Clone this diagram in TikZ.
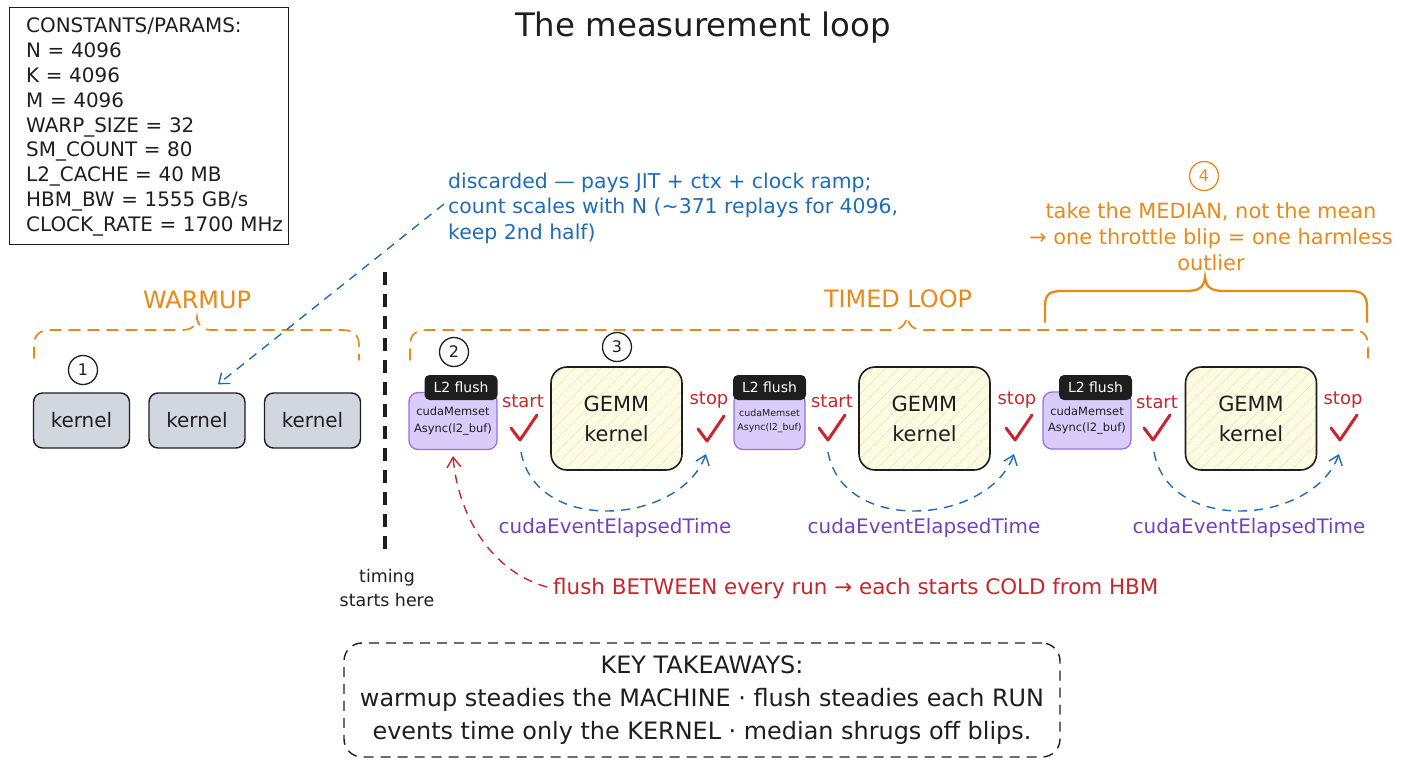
\documentclass[tikz,border=0pt]{standalone}
\usepackage{fontspec}
\setmainfont{DejaVu Sans}
\usetikzlibrary{arrows.meta,patterns.meta,calc}
\definecolor{cOrange}{RGB}{232,137,24}
\definecolor{cBlue}{RGB}{30,108,184}
\definecolor{cPurple}{RGB}{112,66,190}
\definecolor{cRed}{RGB}{200,38,44}
\definecolor{cLav}{RGB}{218,204,250}
\definecolor{cLavB}{RGB}{150,112,228}
\definecolor{cGray}{RGB}{210,215,223}
\definecolor{cInk}{RGB}{30,30,30}
\definecolor{cCream}{RGB}{253,251,228}
\definecolor{cHatch}{RGB}{236,230,170}
\newcommand{\fsz}[2]{\fontsize{#1}{#2}\selectfont}
\begin{document}
\begin{tikzpicture}[x=1bp,y=-1bp,
  every node/.style={inner sep=0pt, text=cInk},
  numcirc/.style={circle,draw=cInk,line width=1.3bp,minimum size=29bp,font=\fsz{16}{20}},
  kbox/.style={draw=cInk,fill=cGray,line width=1.4bp,rounded corners=9bp,minimum width=96bp,minimum height=55bp,font=\fsz{20}{23}},
  gemm/.style={draw=cInk,line width=1.6bp,rounded corners=16bp,minimum width=131bp,minimum height=103bp,align=center,font=\fsz{21}{30},
     preaction={fill=cCream},pattern={Lines[angle=45,distance=10bp,line width=0.8bp]},pattern color=cHatch},
  flushbox/.style={draw=cLavB,fill=cLav,line width=1.3bp,rounded corners=9bp,minimum height=57bp,align=center},
  l2tag/.style={fill=cInk,rounded corners=5bp,text=white,minimum height=25bp,font=\fsz{14}{18}},
  evt/.style={text=cRed,font=\fsz{18}{20}},
  chk/.pic={\draw[cRed,line width=3bp,line cap=round,line join=round] (-9,-12) -- (0,0) -- (17,-25);},
  elapsed/.style={text=cPurple,font=\fsz{20}{24}},
  arcb/.style={cBlue,line width=1.4bp,dash pattern=on 9bp off 7bp,-{Straight Barb[length=9bp,width=14bp]}},
  arcr/.style={cRed,line width=1.4bp,dash pattern=on 9bp off 7bp,-{Straight Barb[length=10bp,width=14bp]}},
  odash/.style={cOrange,line width=1.7bp,dash pattern=on 11bp off 8bp,line cap=round},
  olabel/.style={text=cOrange,font=\fsz{24}{26}},
]
\useasboundingbox (0,0) rectangle (1408,768);

% constants box
\node[draw=cInk,line width=1.4bp,anchor=north west,minimum width=279bp,minimum height=237bp] (params) at (9,7) {};
\node[anchor=west,text width=265bp,align=left,font=\fsz{20}{25}] (paramtxt) at (26,127)
 {CONSTANTS/PARAMS:\\N = 4096\\K = 4096\\M = 4096\\WARP\_SIZE = 32\\SM\_COUNT = 80\\L2\_CACHE = 40 MB\\HBM\_BW = 1555 GB/s\\CLOCK\_RATE = 1700 MHz};

% title
\node[font=\fsz{32.5}{38}] (title) at (703,28) {The measurement loop};

% discarded note
\node[text=cBlue,align=left,anchor=west,font=\fsz{20.5}{25.5}] (disc) at (448,208)
 {discarded — pays JIT + ctx + clock ramp;\\count scales with N (\textasciitilde371 replays for 4096,\\keep 2nd half)};

% warmup
\node[kbox] (k1) at (81.5,420.5) {kernel};
\node[kbox] (k2) at (197,420.5) {kernel};
\node[kbox] (k3) at (312.5,420.5) {kernel};
\node[numcirc] (n1) at (83,370) {1};
\node[olabel] (warm) at (197,300) {WARMUP};
\draw[odash] (34,358) -- (34,346) .. controls (34,334) and (40,330) .. (52,330) -- (182,330)
  .. controls (192,330) and (196,326) .. (197,317) .. controls (198,326) and (202,330) .. (212,330)
  -- (342,330) .. controls (354,330) and (359,335) .. (359,346) -- (359,360);
\coordinate (k2tip) at ($(k2.north)+(21,-8)$);
\draw[arcb] ($(disc.west)+(-4,-4)$) -- (k2tip);

% timing divider
\node[align=center,font=\fsz{17.5}{24}] (timing) at (387,588) {timing\\starts here};
\coordinate (vtop) at (385,272);
\draw[cInk,line width=4bp,dash pattern=on 13bp off 9bp] (vtop) -- ($(timing.north)+(-2,-16)$);

% timed loop brace
\node[olabel] (timed) at (898,299) {TIMED LOOP};
\draw[odash] (410,360) -- (410,346) .. controls (410,334) and (416,330) .. (428,330) -- (890,330)
  .. controls (900,330) and (905,326) .. (907,317) .. controls (909,326) and (914,330) .. (924,330)
  -- (1352,330) .. controls (1363,330) and (1368,335) .. (1368,346) -- (1368,358);

% median note
\node[numcirc,draw=cOrange,text=cOrange] (n4) at (1204,176) {4};
\node[text=cOrange,align=center,font=\fsz{21}{26}] (median) at (1211,237)
 {take the MEDIAN, not the mean\\→ one throttle blip = one harmless\\outlier};
\draw[cOrange,line width=2.3bp,line cap=round] (1045,322) -- (1045,306) .. controls (1045,294) and (1050,291) .. (1062,291)
  -- (1186,291) .. controls (1198,291) and (1204,288) .. (1205,277) .. controls (1206,288) and (1212,291) .. (1224,291)
  -- (1350,291) .. controls (1362,291) and (1367,295) .. (1367,307) -- (1367,322);

% group 1
\node[flushbox,minimum width=88bp,font=\fsz{11.5}{17}] (f1) at (453,421) {cudaMemset\\Async(l2\_buf)};
\node[l2tag,minimum width=73bp] (l1) at (461,387.5) {L2 flush};
\node[numcirc] (n2) at (454,352) {2};
\node[evt] (st1) at (523,401) {start};
\pic at (520,440) {chk};
\node[gemm] (g1) at (616.5,418.5) {GEMM\\kernel};
\node[numcirc] (n3) at (617,347) {3};
\node[evt] (sp1) at (709,400) {stop};
\pic at (707,441) {chk};
\coordinate (a1s) at (521,452);
\coordinate (a1e) at (706,454);
\draw[arcb] (a1s) .. controls +(15,83) and +(-26,71) .. (a1e);
\node[elapsed] (e1) at (615,528) {cudaEventElapsedTime};

% group 2
\node[flushbox,minimum width=71bp,font=\fsz{9.5}{15}] (f2) at (769.5,421) {cudaMemset\\Async(l2\_buf)};
\node[l2tag,minimum width=73bp] (l2) at (769.5,387.5) {L2 flush};
\node[evt] (st2) at (832,401) {start};
\pic at (828,440) {chk};
\node[gemm] (g2) at (924.5,418.5) {GEMM\\kernel};
\node[evt] (sp2) at (1017,400) {stop};
\pic at (1015,440) {chk};
\coordinate (a2s) at (828,452);
\coordinate (a2e) at (1014,454);
\draw[arcb] (a2s) .. controls +(15,83) and +(-26,71) .. (a2e);
\node[elapsed] (e2) at (924,528) {cudaEventElapsedTime};

% group 3
\node[flushbox,minimum width=88bp,font=\fsz{11.5}{17}] (f3) at (1087,420.5) {cudaMemset\\Async(l2\_buf)};
\node[l2tag,minimum width=73bp] (l3) at (1095.5,387.5) {L2 flush};
\node[evt] (st3) at (1157,402) {start};
\pic at (1153,440) {chk};
\node[gemm] (g3) at (1251,418.5) {GEMM\\kernel};
\node[evt] (sp3) at (1343,400) {stop};
\pic at (1340,440) {chk};
\coordinate (a3s) at (1154,452);
\coordinate (a3e) at (1339,454);
\draw[arcb] (a3s) .. controls +(15,83) and +(-26,71) .. (a3e);
\node[elapsed] (e3) at (1249,528) {cudaEventElapsedTime};

% flush note
\node[text=cRed,anchor=west,font=\fsz{21.5}{24}] (flushtxt) at (553,589) {flush BETWEEN every run → each starts COLD from HBM};
\draw[arcr] ($(flushtxt.west)+(-6,-2)$) .. controls +(-55,-15) and +(5,60) .. ($(f1.south)+(0,6)$);

% key takeaways
\node[draw=cInk,line width=1.4bp,dash pattern=on 10bp off 7bp,rounded corners=18bp,minimum width=716bp,minimum height=114bp,align=center,font=\fsz{24}{33}] (key) at (702,700)
 {KEY TAKEAWAYS:\\warmup steadies the MACHINE · flush steadies each RUN\\events time only the KERNEL · median shrugs off blips.};
\end{tikzpicture}
\end{document}
